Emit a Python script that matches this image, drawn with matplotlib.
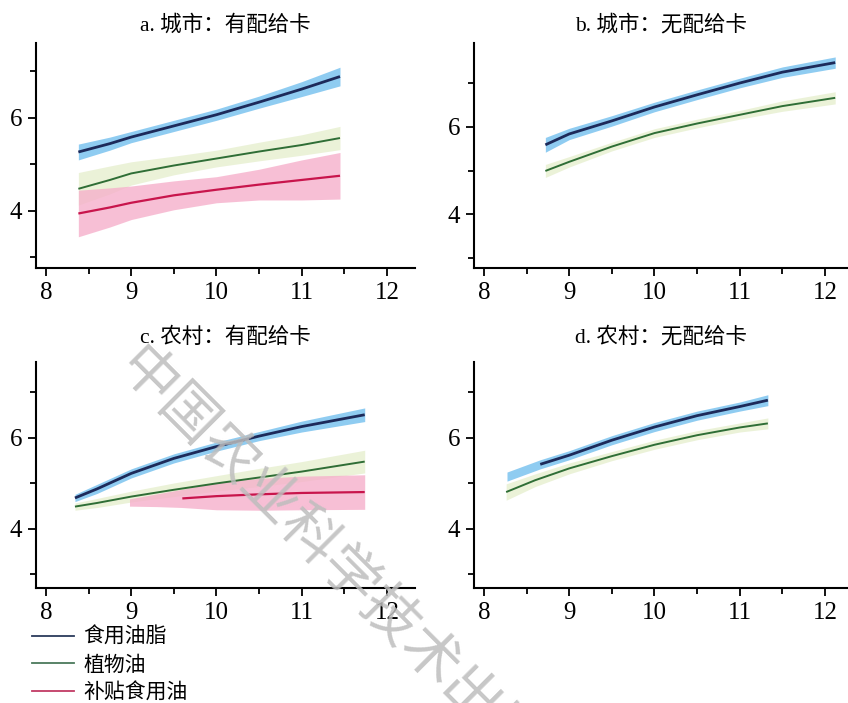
import numpy as np
import matplotlib
matplotlib.use("Agg")
import matplotlib.pyplot as plt
from matplotlib.lines import Line2D
from matplotlib.ticker import MultipleLocator

plt.rcParams['font.family'] = ['Liberation Serif', 'Noto Sans CJK SC', 'DejaVu Sans']

# ---- data ----
series_names = ["食用油脂", "植物油", "补贴食用油"]
panel_titles = ["a. 城市：有配给卡", "b. 城市：无配给卡", "c. 农村：有配给卡", "d. 农村：无配给卡"]

# a. urban, with ration card
a_x = [8.38, 8.75, 9.0, 9.5, 10.0, 10.5, 11.0, 11.45]
a_oil = [5.26, 5.44, 5.58, 5.82, 6.06, 6.33, 6.61, 6.88]
a_oil_ci = [0.17, 0.14, 0.12, 0.12, 0.12, 0.13, 0.16, 0.2]
a_veg = [4.47, 4.66, 4.80, 4.97, 5.12, 5.27, 5.41, 5.56]
a_veg_ci = [0.35, 0.3, 0.25, 0.2, 0.18, 0.2, 0.22, 0.25]
a_sub = [3.94, 4.07, 4.17, 4.33, 4.45, 4.56, 4.66, 4.75]
a_sub_ci = [0.5, 0.42, 0.36, 0.31, 0.28, 0.33, 0.43, 0.5]

# b. urban, no ration card
b_x = [8.72, 9.0, 9.5, 10.0, 10.5, 11.0, 11.5, 12.12]
b_oil = [5.59, 5.84, 6.14, 6.46, 6.74, 7.01, 7.26, 7.48]
b_oil_ci = [0.17, 0.13, 0.12, 0.11, 0.11, 0.11, 0.12, 0.13]
b_veg = [4.99, 5.20, 5.55, 5.86, 6.08, 6.28, 6.48, 6.67]
b_veg_ci = [0.15, 0.12, 0.1, 0.1, 0.1, 0.1, 0.12, 0.14]

# c. rural, with ration card
c_x = [8.34, 8.6, 9.0, 9.5, 10.0, 10.5, 11.0, 11.74]
c_oil = [4.68, 4.88, 5.22, 5.55, 5.81, 6.04, 6.25, 6.51]
c_oil_ci = [0.08, 0.1, 0.1, 0.1, 0.1, 0.1, 0.12, 0.15]
c_veg = [4.49, 4.57, 4.71, 4.86, 5.00, 5.13, 5.26, 5.48]
c_veg_ci = [0.08, 0.1, 0.12, 0.15, 0.17, 0.2, 0.22, 0.25]
c_sub_x = [8.98, 9.3, 9.6, 10.0, 10.5, 11.0, 11.74]
c_sub = [4.58, 4.63, 4.67, 4.72, 4.76, 4.79, 4.81]
c_sub_ci = [0.08, 0.14, 0.2, 0.3, 0.35, 0.37, 0.38]
c_sub_line_from = 9.6

# d. rural, no ration card
d_oil_x = [8.27, 8.66, 9.0, 9.5, 10.0, 10.5, 11.0, 11.33]
d_oil = [5.15, 5.42, 5.62, 5.95, 6.24, 6.49, 6.69, 6.83]
d_oil_ci = [0.1, 0.1, 0.1, 0.1, 0.1, 0.1, 0.1, 0.12]
d_oil_line_from = 8.66
d_veg_x = [8.26, 8.6, 9.0, 9.5, 10.0, 10.5, 11.0, 11.33]
d_veg = [4.81, 5.07, 5.33, 5.6, 5.85, 6.06, 6.23, 6.32]
d_veg_ci = [0.18, 0.14, 0.12, 0.1, 0.1, 0.1, 0.1, 0.12]

line_colors = ["#1d2a5a", "#2f6e36", "#c8154c"]
band_colors = ["#7cc3ef", "#e8f0d2", "#f6b0cb"]
band_alpha = [0.85, 0.85, 0.8]
line_widths = [2.0, 1.4, 1.6]
legend_colors = ["#2b3a5c", "#4b7a5c", "#c23a64"]


def draw(ax, x, y, ci, k, line_from=None):
    x = np.array(x)
    y = np.array(y)
    ci = np.array(ci)
    ax.fill_between(x, y - ci, y + ci, color=band_colors[k], alpha=band_alpha[k],
                    linewidth=0, zorder=1 + k * 0.1)
    m = x >= (line_from if line_from is not None else x[0])
    ax.plot(x[m], y[m], color=line_colors[k], lw=line_widths[k], zorder=3 + (2 - k) * 0.1,
            solid_capstyle='butt', solid_joinstyle='round')


fig = plt.figure(figsize=(8.48, 7.03), dpi=100)
W, H = 848, 703
boxes = [(36, 43, 415, 268), (474, 43, 848, 268), (36, 362, 415, 588), (474, 362, 848, 588)]
xlims = [(7.883, 12.33), (7.883, 12.27), (7.883, 12.33), (7.883, 12.27)]
ylims = [(2.77, 7.6), (2.76, 7.93), (2.70, 7.67), (2.70, 7.67)]
title_pads = [9, 9, 14, 14]

axes = []
for i, (l, t, r, b) in enumerate(boxes):
    ax = fig.add_axes([l / W, 1 - b / H, (r - l) / W, (b - t) / H])
    ax.set_xlim(*xlims[i])
    ax.set_ylim(*ylims[i])
    for s in ["top", "right"]:
        ax.spines[s].set_visible(False)
    for s in ["left", "bottom"]:
        ax.spines[s].set_linewidth(1.5)
    ax.xaxis.set_major_locator(MultipleLocator(1))
    ax.xaxis.set_minor_locator(MultipleLocator(0.5))
    ax.set_yticks([4, 6])
    ax.set_yticks([3, 5, 7], minor=True)
    ax.tick_params(which='major', length=6, width=1.3, labelsize=18, pad=4, direction='out')
    ax.tick_params(which='minor', length=4, width=1.3, direction='out')
    ax.set_title(panel_titles[i], fontsize=15.5, pad=title_pads[i])
    axes.append(ax)

draw(axes[0], a_x, a_oil, a_oil_ci, 0)
draw(axes[0], a_x, a_veg, a_veg_ci, 1)
draw(axes[0], a_x, a_sub, a_sub_ci, 2)

draw(axes[1], b_x, b_oil, b_oil_ci, 0)
draw(axes[1], b_x, b_veg, b_veg_ci, 1)

draw(axes[2], c_x, c_oil, c_oil_ci, 0)
draw(axes[2], c_x, c_veg, c_veg_ci, 1)
draw(axes[2], c_sub_x, c_sub, c_sub_ci, 2, line_from=c_sub_line_from)

draw(axes[3], d_oil_x, d_oil, d_oil_ci, 0, line_from=d_oil_line_from)
draw(axes[3], d_veg_x, d_veg, d_veg_ci, 1)

handles = [Line2D([], [], color=legend_colors[k], lw=1.3) for k in range(3)]
fig.legend(handles, series_names, loc='upper left', bbox_to_anchor=(32 / W, 1 - 628 / H),
           frameon=False, fontsize=15, handlelength=2.0, handletextpad=0.45,
           labelspacing=0.38, borderaxespad=0, borderpad=0)

# watermark
fig.text(127 / W, 1 - 358 / H, "中国农业科学技术出版社", rotation=-45, rotation_mode='anchor',
         ha='left', va='center', fontsize=41, color='#bdbdbd', alpha=0.85,
         family=['Noto Sans CJK SC'], zorder=10)

fig.savefig("out.png", dpi=100)
